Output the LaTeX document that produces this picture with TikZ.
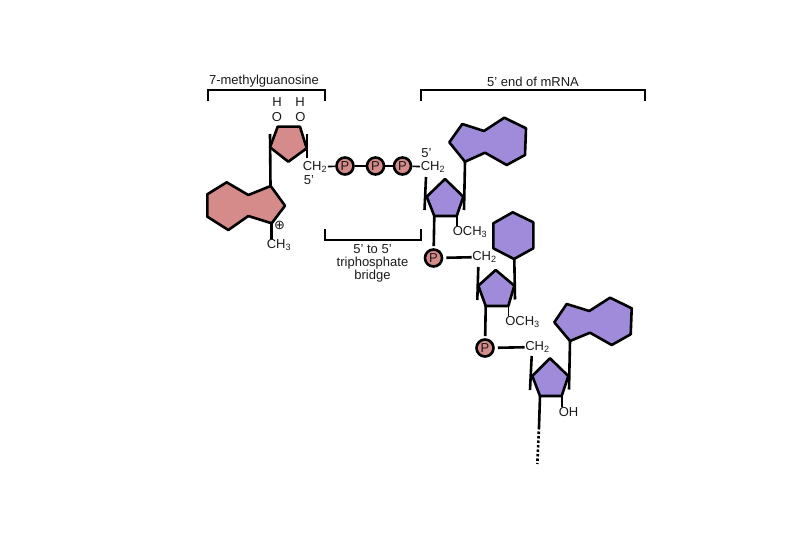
\documentclass[tikz,border=0pt]{standalone}
\usepackage{fontspec}
\setmainfont{Liberation Sans}
\newfontfamily\symfont{DejaVu Sans}
\usepackage{xcolor}
\definecolor{capred}{HTML}{D68B8B}
\definecolor{rnapurple}{HTML}{9F8BD9}
\definecolor{inkgrey}{HTML}{1A1A1A}
\usetikzlibrary{positioning}
\tikzset{
  bond/.style={draw=black, line width=2.6pt},
  thinbond/.style={draw=black, line width=1.6pt},
  ring/.style={draw=black, line width=2.6pt, line join=round},
  lbl/.style={font=\fontsize{13}{13}\selectfont, text=inkgrey, inner sep=0.5pt},
  phos/.style={circle, draw=black, line width=2.6pt, fill=capred, minimum size=17pt, inner sep=0pt, font=\fontsize{13}{13}\selectfont, text=inkgrey},
  brace/.style={draw=black, line width=2.6pt, line cap=butt}
}
\begin{document}
\begin{tikzpicture}[x=1pt, y=-1pt]
\useasboundingbox (0,0) rectangle (810,540);
% brackets
\node[lbl] (capname) at (264,81.5) {7-methylguanosine};
\node[lbl] (endname) at (533,81.5) {5' end of mRNA};
\node[lbl, align=center] (bridgename) at (372.5,263) {5' to 5'\\triphosphate\\bridge};
\draw[brace] (208,101) -- (208,90) -- (325,90) -- (325,101);
\draw[brace] (421,101) -- (421,90) -- (645,90) -- (645,101);
\draw[brace] (325,229) -- (325,240) -- (421,240) -- (421,229);
% cap
\node[lbl] (h1) at (277,102) {H};
\node[lbl] (h2) at (300,102) {H};
\node[lbl] (o1) at (277,117) {O};
\node[lbl] (o2) at (300.5,117) {O};
\node[lbl] (cha) at (315,167) {CH\textsubscript{2}};
\node[lbl] (fivea) at (309,180) {5'};
\node[lbl] (chme) at (279,245) {CH\textsubscript{3}};
\node[lbl, font=\fontsize{13}{13}\symfont] (plus) at (279.5,225) {⊕};
\coordinate (capt1) at (270,134);
\coordinate (capt2) at (307,134);
\coordinate (capt3) at (307,158);
\coordinate (capbase) at (270.5,186);
\coordinate (capme) at (271.5,223);
\draw[bond] (capt1) -- (capbase);
\draw[bond] (capt2) -- (capt3);
\draw[bond] (capme) -- (chme.north -| capme);
\draw[ring, fill=capred] (277.7,126.7) -- (300,126.7) -- (306.7,148.3) -- (288.3,161.7) -- (270,147.3) -- cycle;
\draw[ring, fill=capred] (270.7,186) -- (285,205.7) -- (271.7,223.3) -- (248.3,216) -- (228.3,230) -- (207.3,216.7) -- (207.3,194.3) -- (226.7,182.3) -- (248.3,195) -- cycle;
% triphosphate
\node[phos] (p1) at (345,166) {P};
\node[phos] (p2) at (375.5,166) {P};
\node[phos] (p3) at (402.5,166) {P};
\node[lbl] (chb) at (433,167) {CH\textsubscript{2}};
\node[lbl] (fiveb) at (426.5,153) {5'};
\draw[thinbond] (cha) -- (p1);
\draw[bond] (p1) -- (p2);
\draw[bond] (p2) -- (p3);
\draw[thinbond] (p3) -- (chb);
% first nucleotide
\node[lbl] (ome1) at (470,232) {OCH\textsubscript{3}};
\node[phos] (p4) at (433.5,258) {P};
\node[lbl] (chc) at (484.5,257) {CH\textsubscript{2}};
\coordinate (sa1) at (426,177);
\coordinate (sa2) at (424.5,210);
\coordinate (sa3) at (465,162);
\coordinate (sa4) at (464,210);
\coordinate (sa5) at (434.3,216);
\coordinate (sa6) at (456.7,216);
\draw[bond] (sa1) -- (sa2);
\draw[bond] (sa3) -- (sa4);
\draw[bond, shorten >=2pt] (sa5) -- (p4);
\draw[thinbond] (sa6) -- (ome1.north -| sa6);
\draw[bond, shorten <=3pt] (p4) -- (chc);
\draw[ring, fill=rnapurple] (445,179) -- (463.3,196.7) -- (456.7,216) -- (434.3,216) -- (426.7,196.7) -- cycle;
\draw[ring, fill=rnapurple] (465,161.7) -- (449.3,142.3) -- (462.3,124) -- (484,131) -- (504.3,117.7) -- (526,128.3) -- (525,155) -- (506.7,165) -- (485,152.7) -- cycle;
% second nucleotide
\node[lbl] (ome2) at (522.5,322) {OCH\textsubscript{3}};
\node[phos] (p5) at (485,348) {P};
\node[lbl] (chd) at (537.5,347) {CH\textsubscript{2}};
\coordinate (sb1) at (478.3,267);
\coordinate (sb2) at (477.3,300);
\coordinate (sb3) at (514.3,259);
\coordinate (sb4) at (515,299.5);
\coordinate (sb5) at (485.7,306);
\coordinate (sb6) at (508.3,306);
\draw[bond] (sb1) -- (sb2);
\draw[bond] (sb3) -- (sb4);
\draw[bond, shorten >=2pt] (sb5) -- (p5);
\draw[thinbond] (sb6) -- (ome2.north -| sb6);
\draw[bond, shorten <=3pt] (p5) -- (chd);
\draw[ring, fill=rnapurple] (495.7,270) -- (514.3,285.7) -- (508.3,306) -- (485.7,306) -- (478.3,285.7) -- cycle;
\draw[ring, fill=rnapurple] (512.7,212.3) -- (533.3,222.3) -- (533.3,248.3) -- (514,259) -- (493.3,248.3) -- (493.3,223.3) -- cycle;
% third nucleotide
\node[lbl] (oh) at (568.5,412) {OH};
\coordinate (sc1) at (531.7,356);
\coordinate (sc2) at (530,390);
\coordinate (sc3) at (570,341);
\coordinate (sc4) at (569,389.5);
\coordinate (sc5) at (540,396);
\coordinate (sc6) at (561.7,396);
\coordinate (sc7) at (539,427);
\coordinate (sc8) at (537.3,464);
\draw[bond] (sc1) -- (sc2);
\draw[bond] (sc3) -- (sc4);
\draw[bond] (sc5) -- (sc7);
\draw[thinbond] (sc6) -- (oh.north -| sc6);
\draw[bond, dash pattern=on 2.5pt off 2pt] (sc7) -- (sc8);
\draw[ring, fill=rnapurple] (550,358.3) -- (568.3,376) -- (561.7,396) -- (540,396) -- (532.3,376) -- cycle;
\draw[ring, fill=rnapurple] (570,341) -- (554.3,322.3) -- (566.7,304) -- (589.3,311) -- (610,297.7) -- (631.7,308.3) -- (630.7,334.3) -- (611.7,345) -- (590,332.7) -- cycle;
\end{tikzpicture}
\end{document}
